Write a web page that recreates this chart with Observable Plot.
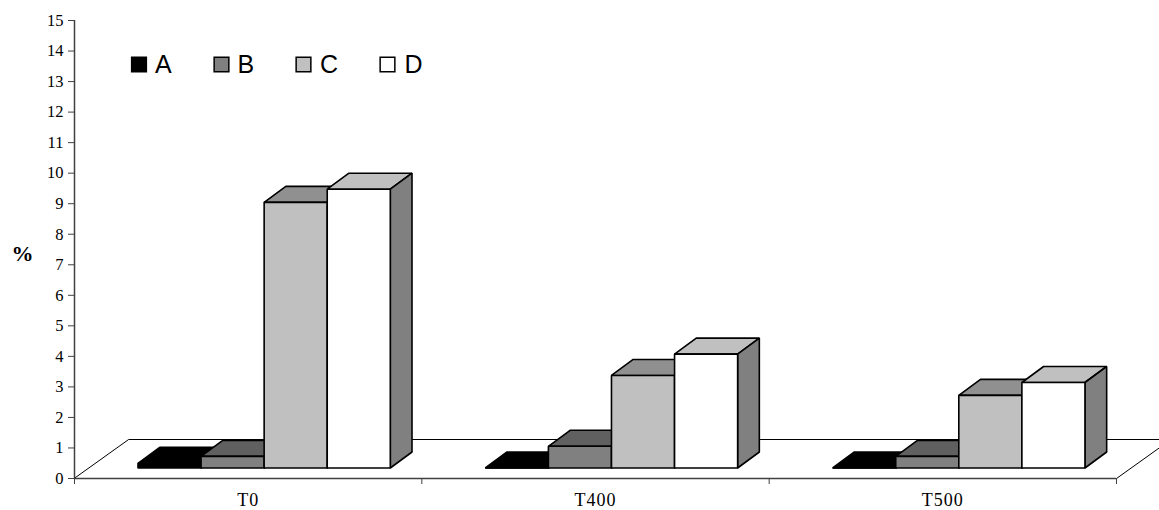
<!DOCTYPE html>
<html>
<head>
<meta charset="utf-8">
<style>
  html, body { margin: 0; padding: 0; background: #fff; overflow: hidden; }
  g[aria-label="x-axis tick label"] text { letter-spacing: 1px; }
</style>
<script src="https://cdn.jsdelivr.net/npm/d3@7"></script>
<script src="https://cdn.jsdelivr.net/npm/@observablehq/plot@0.6"></script>
</head>
<body>
<script>
// Percentages per treatment
const categories = ["T0", "T400", "T500"];
const seriesNames = ["A", "B", "C", "D"];
const valuesA = [0.15, 0, 0];
const valuesB = [0.38, 0.71, 0.38];
const valuesC = [8.7, 3.03, 2.38];
const valuesD = [9.13, 3.73, 2.8];
const yTicks = d3.range(0, 16);

// Fill of each series: front, top and side faces of the blocks
const frontFill = ["#000000", "#808080", "#c0c0c0", "#ffffff"];
const topFill = ["#000000", "#606060", "#909090", "#c0c0c0"];
const sideFill = ["#000000", "#404040", "#606060", "#808080"];

// Oblique projection, in axis units: x per band, y per percent
const floorDepth = {x: 0.157, y: 1.277};
const barInset = {x: 0.046, y: 0.344};
const barDepth = {x: 0.0625, y: 0.524};
const barWidth = 0.1816;

const allValues = [valuesA, valuesB, valuesC, valuesD];
const faces = [];

function addFace(id, fill, corners) {
  for (const [x, y] of corners) faces.push({id, fill, x, y});
}

categories.forEach((cat, c) => {
  const groupLeft = c + 0.5 + barInset.x - 2 * barWidth;
  seriesNames.forEach((name, s) => {
    const v = allValues[s][c];
    const x0 = groupLeft + s * barWidth;
    const x1 = x0 + barWidth;
    const y0 = barInset.y;
    const y1 = barInset.y + v;
    const dx = barDepth.x;
    const dy = barDepth.y;
    addFace(`${cat}-${name}-top`, topFill[s], [[x0, y1], [x1, y1], [x1 + dx, y1 + dy], [x0 + dx, y1 + dy]]);
    addFace(`${cat}-${name}-side`, sideFill[s], [[x1, y0], [x1 + dx, y0 + dy], [x1 + dx, y1 + dy], [x1, y1]]);
    addFace(`${cat}-${name}-front`, frontFill[s], [[x0, y0], [x1, y0], [x1, y1], [x0, y1]]);
  });
});

const floor = [
  [0, 0],
  [categories.length, 0],
  [categories.length + floorDepth.x, floorDepth.y],
  [floorDepth.x, floorDepth.y]
];

// Legend entries, placed from the top-left corner of the frame
const legendOffsets = [
  {key: 0, box: 64.5, text: 80.5},
  {key: 1, box: 147, text: 163},
  {key: 2, box: 229, text: 245.5},
  {key: 3, box: 313, text: 330}
];

const serif = "'Liberation Serif', 'Times New Roman', serif";
const sans = "'Liberation Sans', Arial, sans-serif";

const chart = Plot.plot({
  width: 1159,
  height: 510,
  marginTop: 20,
  marginBottom: 32,
  marginLeft: 74,
  marginRight: 43,
  style: {background: "#fff", color: "#000"},
  x: {domain: [0, categories.length]},
  y: {domain: [0, 15]},
  color: {type: "identity"},
  marks: [
    // Floor of the box
    Plot.line(floor, {
      x: d => d[0], y: d => d[1], curve: "linear-closed",
      fill: "#fff", stroke: "#000", strokeWidth: 1
    }),
    // Blocks, painted back to front
    Plot.line(faces, {
      x: "x", y: "y", z: "id", fill: "fill", curve: "linear-closed",
      stroke: "#000", strokeWidth: 1.6, strokeLinejoin: "miter"
    }),
    // Axes
    Plot.ruleX([0], {stroke: "#404040", strokeWidth: 1.5}),
    Plot.ruleY([0], {stroke: "#404040", strokeWidth: 1.5}),
    Plot.axisY({
      ticks: yTicks, tickSize: 6, tickPadding: 5, label: null,
      fontSize: 16.5, fontFamily: serif, stroke: "#404040", color: "#000",
      tickFormat: d => `${d}`
    }),
    Plot.axisX({
      ticks: d3.range(0, categories.length + 1), tickSize: 6,
      tickFormat: () => "", label: null, stroke: "#404040"
    }),
    Plot.axisX({
      ticks: categories.map((_, i) => i + 0.5), tickSize: 0, tickPadding: 15,
      tickFormat: d => categories[Math.floor(d)], label: null,
      fontSize: 18, fontFamily: serif, fill: "#000"
    }),
    // Axis title
    Plot.text(["%"], {
      text: d => d, frameAnchor: "left", dx: -52, dy: 4, textAnchor: "middle",
      fontFamily: serif, fontWeight: "bold", fontSize: 22, fill: "#000"
    }),
    // Legend
    ...legendOffsets.flatMap(({key, box, text}) => [
      Plot.dot([key], {
        frameAnchor: "top-left", dx: box, dy: 44,
        symbol: "square", r: 8.3, fill: frontFill[key], stroke: "#000", strokeWidth: 1.5
      }),
      Plot.text([seriesNames[key]], {
        text: d => d, frameAnchor: "top-left", dx: text, dy: 44,
        textAnchor: "start", lineAnchor: "middle",
        fontFamily: sans, fontSize: 25, fill: "#000"
      })
    ])
  ]
});

document.body.appendChild(chart);
</script>
</body>
</html>
